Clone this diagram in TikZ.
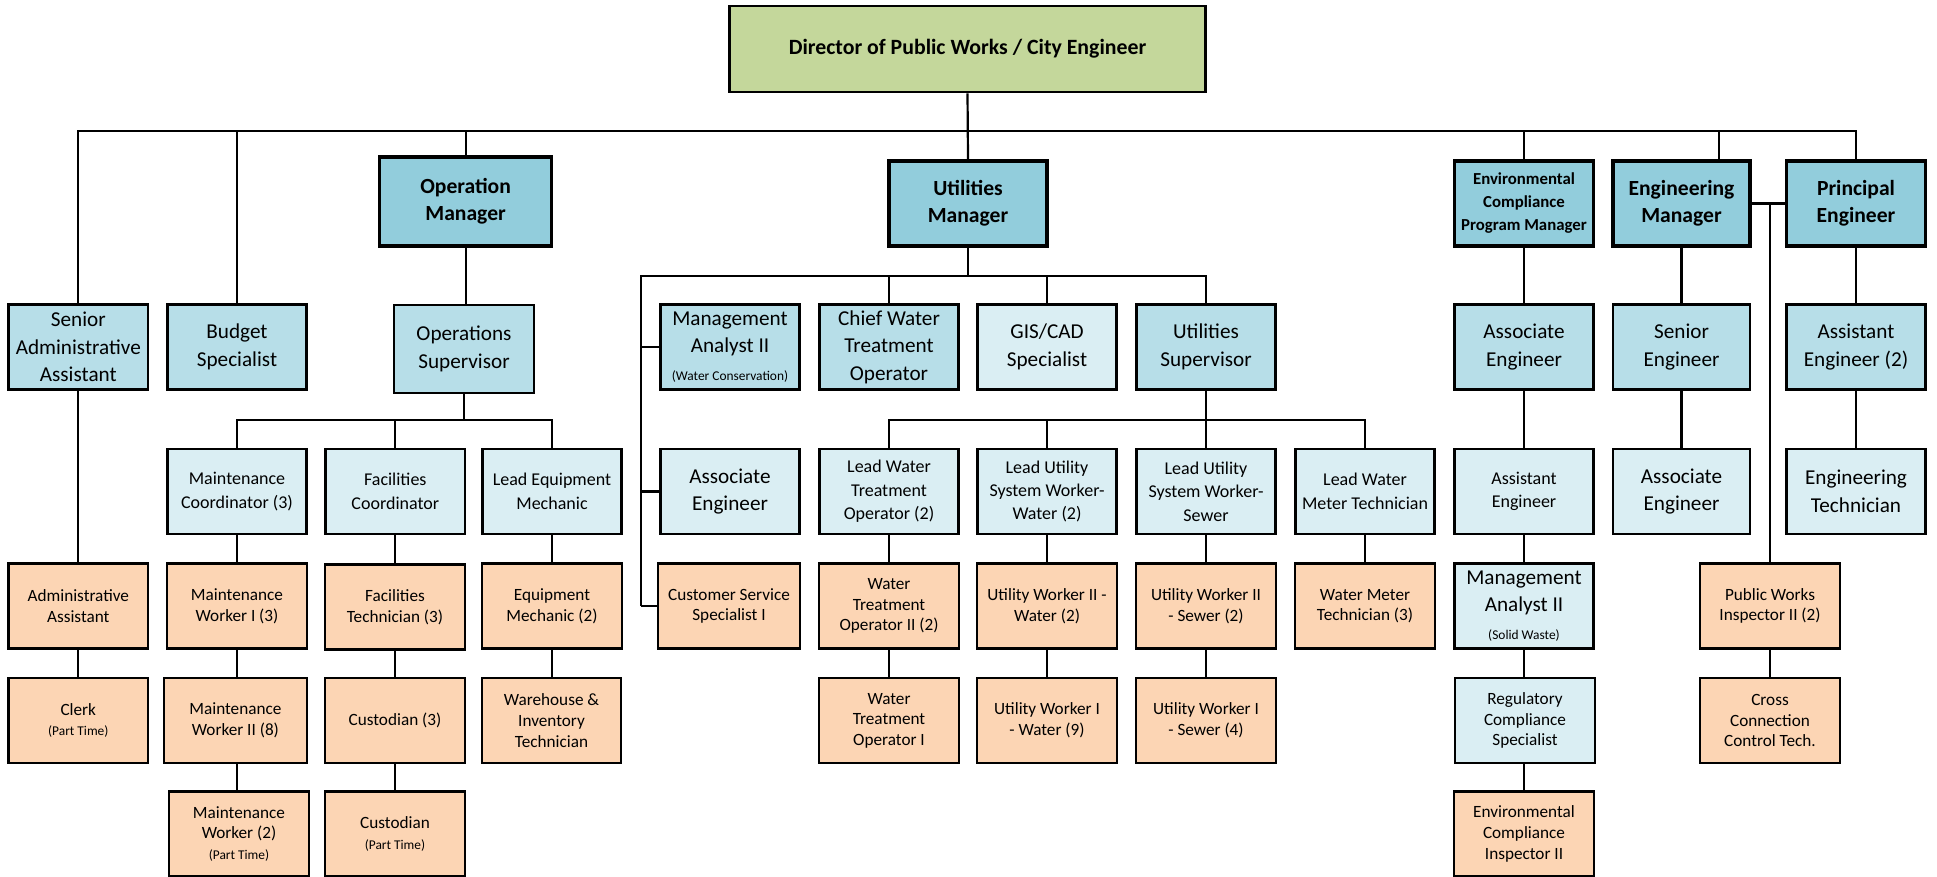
\documentclass[tikz,border=0pt]{standalone}
\usepackage{fontspec}
\setmainfont{Carlito}
\definecolor{dirgreen}{RGB}{196,215,155}
\definecolor{mgrblue}{RGB}{146,205,220}
\definecolor{blueA}{RGB}{183,222,232}
\definecolor{blueB}{RGB}{218,238,243}
\definecolor{peach}{RGB}{252,213,180}
\newcommand{\szDir}{\fontsize{10.9}{13}\selectfont}
\newcommand{\szMgr}{\fontsize{10.8}{13.3}\selectfont}
\newcommand{\szPM}{\fontsize{8.4}{11.5}\selectfont}
\newcommand{\szBig}{\fontsize{10.6}{13.8}\selectfont}
\newcommand{\szMid}{\fontsize{9}{11.7}\selectfont}
\newcommand{\szSm}{\fontsize{8.6}{10.3}\selectfont}
\newcommand{\szTiny}{\fontsize{6.7}{7.8}\selectfont}
\begin{document}
\begin{tikzpicture}[x=0.5pt,y=-0.5pt,
  box/.style={draw=black, line width=1.4pt, align=center, inner sep=1pt,
    minimum width=69.75pt, minimum height=42.5pt, text=black},
  dirbox/.style={box, fill=dirgreen, font=\szDir\bfseries, minimum width=238pt, minimum height=43pt},
  mgr/.style={box, line width=1.6pt, fill=mgrblue, font=\szMgr\bfseries},
  bA/.style={box, fill=blueA, font=\szBig},
  bB/.style={box, fill=blueB, font=\szMid},
  pch/.style={box, line width=1.1pt, fill=peach, font=\szSm},
  conn/.style={line width=1.1pt, draw=black}]
\useasboundingbox (0,0) rectangle (1937,877);

% top
\node[dirbox] (dir) at (967.5,49) {Director of Public Works / City Engineer};
\node[mgr, minimum width=86pt, minimum height=44.5pt] (opm) at (465.6,201.5) {Operation\\Manager};
\node[mgr, minimum width=79pt] (um) at (968,203.5) {Utilities\\Manager};
\node[mgr, font=\szPM\bfseries] (epm) at (1524,203.5) {Environmental\\Compliance\\Program Manager};
\node[mgr, minimum width=68.5pt] (em) at (1681.5,203.5) {Engineering\\Manager};
\node[mgr] (pe) at (1856,203.5) {Principal\\Engineer};

% row 1
\node[bA] (saa) at (78.3,347) {Senior\\Administrative\\Assistant};
\node[bA] (bs) at (237,347) {Budget\\Specialist};
\node[bA, line width=1pt, minimum height=44pt] (os) at (464,349) {Operations\\Supervisor};
\node[bA] (mawc) at (730,347) {Management\\Analyst II\\{\szTiny (Water Conservation)}};
\node[bA] (cwto) at (889,347) {Chief Water\\Treatment\\Operator};
\node[bB, font=\szBig] (gis) at (1047,347) {GIS/CAD\\Specialist};
\node[bA] (us) at (1206,347) {Utilities\\Supervisor};
\node[bA] (aee) at (1524,347) {Associate\\Engineer};
\node[bA, minimum width=68.5pt] (se) at (1681.5,347) {Senior\\Engineer};
\node[bA] (ae2) at (1856,347) {Assistant\\Engineer (2)};

% row 2
\node[bB] (mc) at (237,491.5) {Maintenance\\Coordinator (3)};
\node[bB] (fc) at (395.3,491.5) {Facilities\\Coordinator};
\node[bB] (lem) at (552,491.5) {Lead Equipment\\Mechanic};
\node[bB, font=\szBig] (aeu) at (730,491.5) {Associate\\Engineer};
\node[bB] (lwto) at (889,491.5) {Lead Water\\Treatment\\Operator (2)};
\node[bB] (lusww) at (1047,491.5) {Lead Utility\\System Worker-\\Water (2)};
\node[bB] (lusws) at (1206,491.5) {Lead Utility\\System Worker-\\Sewer};
\node[bB] (lwmt) at (1365,491.5) {Lead Water\\Meter Technician};
\node[bB] (aeenv) at (1524,491.5) {Assistant\\Engineer};
\node[bB, font=\szBig, minimum width=68.5pt] (aeeng) at (1681.5,491.5) {Associate\\Engineer};
\node[bB, font=\szBig] (et) at (1856,491.5) {Engineering\\Technician};

% row 3
\node[pch] (aa) at (78.3,606) {Administrative\\Assistant};
\node[pch] (mw1) at (237,606) {Maintenance\\Worker I (3)};
\node[pch] (ft) at (395,607) {Facilities\\Technician (3)};
\node[pch] (emech) at (552,606) {Equipment\\Mechanic (2)};
\node[pch, minimum width=71pt] (css) at (729,606) {Customer Service\\Specialist I};
\node[pch] (wto2) at (889,606) {Water\\Treatment\\Operator II (2)};
\node[pch] (uw2w) at (1047,606) {Utility Worker II -\\Water (2)};
\node[pch] (uw2s) at (1206,606) {Utility Worker II\\- Sewer (2)};
\node[pch] (wmt) at (1365,606) {Water Meter\\Technician (3)};
\node[bB, font=\szBig, line width=1.6pt] (masw) at (1524,606) {Management\\Analyst II\\{\szTiny (Solid Waste)}};
\node[pch] (pwi) at (1770,606) {Public Works\\Inspector II (2)};

% row 4
\node[pch] (clerk) at (78.3,720.5) {Clerk\\{\szTiny (Part Time)}};
\node[pch, minimum width=71.5pt] (mw2) at (235.4,720.5) {Maintenance\\Worker II (8)};
\node[pch] (cust3) at (395,720.5) {Custodian (3)};
\node[pch] (wit) at (551.5,720.5) {Warehouse \&\\Inventory\\Technician};
\node[pch] (wto1) at (889,720.5) {Water\\Treatment\\Operator I};
\node[pch] (uw1w) at (1047,720.5) {Utility Worker I\\- Water (9)};
\node[pch] (uw1s) at (1206,720.5) {Utility Worker I\\- Sewer (4)};
\node[bB, line width=1.1pt, font=\szSm] (rcs) at (1525,720.5) {Regulatory\\Compliance\\Specialist};
\node[pch] (ccct) at (1770,720.5) {Cross\\Connection\\Control Tech.};

% row 5
\node[pch] (mwpt) at (239,834) {Maintenance\\Worker (2)\\{\szTiny (Part Time)}};
\node[pch] (custpt) at (395,834) {Custodian\\{\szTiny (Part Time)}};
\node[pch] (eci) at (1524,834) {Environmental\\Compliance\\Inspector II};

% connectors
\coordinate (tb) at (0,130.7);
\coordinate (ob) at (0,420);
\coordinate (ub) at (641,276);
\coordinate (emdrop) at ([xshift=-16.5pt]em.north east);

\draw[conn] (dir.south) -- (um.north);
\draw[conn] (saa.north) -- (saa.north |- tb) -- (pe.north |- tb) -- (pe.north);
\draw[conn] (bs.north |- tb) -- (bs.north);
\draw[conn] (opm.north |- tb) -- (opm.north);
\draw[conn] (epm.north |- tb) -- (epm.north);
\draw[conn] (emdrop |- tb) -- (emdrop);

\draw[conn] (saa.south) -- (aa.north);
\draw[conn] (aa.south) -- (clerk.north);

\draw[conn] (opm.south) -- (opm.south |- os.north);
\draw[conn] (os.south) -- (os.south |- ob);
\draw[conn] (mc.north) -- (mc.north |- ob) -- (lem.north |- ob) -- (lem.north);
\draw[conn] (fc.north |- ob) -- (fc.north);
\draw[conn] (mc.south) -- (mw1.north);
\draw[conn] (mw1.south) -- (mw1.south |- mw2.north);
\draw[conn] (mw1.south |- mw2.south) -- (mw1.south |- mwpt.north);
\draw[conn] (fc.south) -- (fc.south |- ft.north);
\draw[conn] (fc.south |- ft.south) -- (fc.south |- cust3.north);
\draw[conn] (fc.south |- cust3.south) -- (fc.south |- custpt.north);
\draw[conn] (lem.south) -- (lem.south |- emech.north);
\draw[conn] (emech.south) -- (emech.south |- wit.north);

\draw[conn] (um.south) -- (um.south |- ub);
\draw[conn] (ub |- css.west) -- (ub) -- (us.north |- ub) -- (us.north);
\draw[conn] (cwto.north |- ub) -- (cwto.north);
\draw[conn] (gis.north |- ub) -- (gis.north);
\draw[conn] (ub |- mawc.west) -- (mawc.west);
\draw[conn] (ub |- aeu.west) -- (aeu.west);
\draw[conn] (ub |- css.west) -- (css.west);

\draw[conn] (us.south) -- (us.south |- ob);
\draw[conn] (lwto.north) -- (lwto.north |- ob) -- (lwmt.north |- ob) -- (lwmt.north);
\draw[conn] (lusww.north |- ob) -- (lusww.north);
\draw[conn] (lusws.north |- ob) -- (lusws.north);
\draw[conn] (lwto.south) -- (wto2.north);
\draw[conn] (wto2.south) -- (wto1.north);
\draw[conn] (lusww.south) -- (uw2w.north);
\draw[conn] (uw2w.south) -- (uw1w.north);
\draw[conn] (lusws.south) -- (uw2s.north);
\draw[conn] (uw2s.south) -- (uw1s.north);
\draw[conn] (lwmt.south) -- (wmt.north);

\draw[conn] (epm.south) -- (aee.north);
\draw[conn] (aee.south) -- (aeenv.north);
\draw[conn] (aeenv.south) -- (masw.north);
\draw[conn] (masw.south) -- (masw.south |- rcs.north);
\draw[conn] (masw.south |- rcs.south) -- (eci.north);

\draw[conn] (em.south) -- (se.north);
\draw[conn] (se.south) -- (aeeng.north);
\draw[conn] (pe.south) -- (ae2.north);
\draw[conn] (ae2.south) -- (et.north);
\draw[conn] (em.east) -- (pe.west);
\draw[conn] (pwi.north |- em.east) -- (pwi.north);
\draw[conn] (pwi.south) -- (ccct.north);
\end{tikzpicture}
\end{document}
